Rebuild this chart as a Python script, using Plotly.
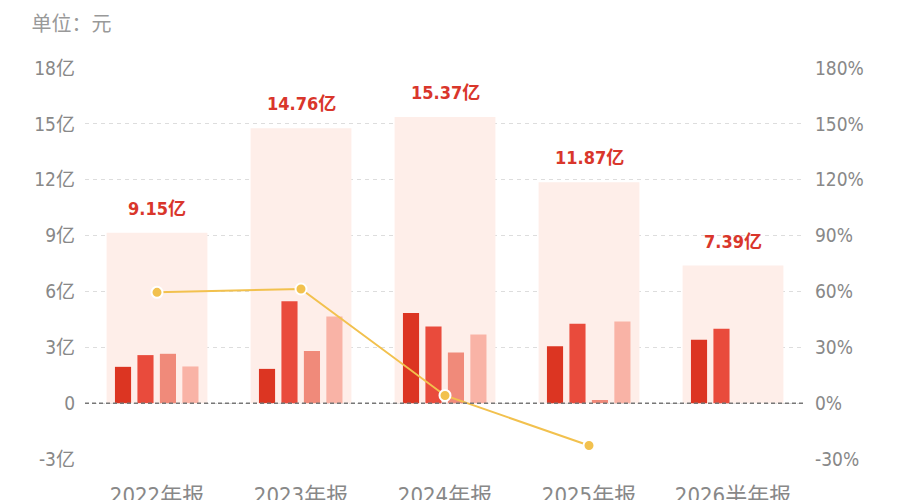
import plotly.graph_objects as go

# 报告期
periods = ["2022年报", "2023年报", "2024年报", "2025年报", "2026半年报"]

# 总额（亿元）
totals = [9.15, 14.76, 15.37, 11.87, 7.39]

# 各季度（亿元）
q1 = [1.95, 1.84, 4.84, 3.06, 3.40]
q2 = [2.58, 5.47, 4.12, 4.26, 3.99]
q3 = [2.65, 2.80, 2.72, 0.17, None]
q4 = [1.97, 4.65, 3.69, 4.38, None]

# 同比增长率（%）
growth = [59.5, 61.31, 4.13, -22.77, None]

y_ticks = [-3, 0, 3, 6, 9, 12, 15, 18]
y_labels = ["-3亿", "0", "3亿", "6亿", "9亿", "12亿", "15亿", "18亿"]
y2_ticks = [-30, 0, 30, 60, 90, 120, 150, 180]
y2_labels = ["-30%", "0%", "30%", "60%", "90%", "120%", "150%", "180%"]

font_num = "Liberation Sans Narrow, DejaVu Sans Condensed, Roboto, Noto Sans CJK SC, sans-serif"

fig = go.Figure()

# 背景柱（总额）
fig.add_trace(go.Bar(
    x=periods, y=totals, width=0.7, offset=-0.35,
    marker=dict(color="#FEEEE9", line=dict(width=0)),
    hoverinfo="skip", showlegend=False,
))

bar_colors = ["#DC3522", "#E94B3C", "#F08A7A", "#F9B3A6"]
offsets = [-0.292, -0.136, 0.02, 0.176]
for vals, c, off in zip([q1, q2, q3, q4], bar_colors, offsets):
    fig.add_trace(go.Bar(
        x=periods, y=vals, width=0.112, offset=off,
        marker=dict(color=c, line=dict(width=0)),
        showlegend=False,
    ))

# 增长率折线
fig.add_trace(go.Scatter(
    x=periods, y=growth, yaxis="y2", mode="lines+markers",
    line=dict(color="#F2C14E", width=2),
    marker=dict(color="#F2C14E", size=11, line=dict(color="white", width=2)),
    showlegend=False,
))

# 总额标签
for p, t in zip(periods, totals):
    fig.add_annotation(
        x=p, y=t, text=f"{t:.2f}亿", showarrow=False,
        yanchor="bottom", yshift=12,
        font=dict(family=font_num, size=18, color="#D9362B", weight="bold"),
    )

# 零线
fig.add_shape(type="line", xref="paper", x0=0, x1=1, yref="y", y0=0, y1=0,
              line=dict(color="#777777", width=1.5, dash="4px,3px"))

# 页面有 8px 边距，边距里已扣掉
fig.update_layout(
    width=900, height=500,
    margin=dict(l=77, r=103, t=60, b=49),
    paper_bgcolor="white", plot_bgcolor="white",
    barmode="overlay",
    title=dict(text="单位：元", x=0.026, xref="container", xanchor="left",
               y=0.968, yref="container", yanchor="middle", pad=dict(l=0, t=0, b=0, r=0),
               font=dict(family="Noto Sans CJK SC", size=20, color="#999999")),
    xaxis=dict(
        range=[-0.5, 4.5], showgrid=False, showline=False, zeroline=False,
        ticks="outside", ticklen=17, tickcolor="rgba(0,0,0,0)", automargin=False,
        tickfont=dict(family=font_num, size=22, color="#888888"),
    ),
    yaxis=dict(
        range=[-3, 18], tickvals=y_ticks, ticktext=y_labels, automargin=False,
        showgrid=True, gridcolor="#DDDDDD", griddash="4px,4px", gridwidth=1,
        zeroline=False, showline=False, ticklabelstandoff=9,
        tickfont=dict(family=font_num, size=19, color="#888888"),
    ),
    yaxis2=dict(
        range=[-30, 180], tickvals=y2_ticks, ticktext=y2_labels, automargin=False,
        overlaying="y", side="right", showgrid=False, zeroline=False, showline=False,
        ticklabelstandoff=9,
        tickfont=dict(family=font_num, size=19, color="#888888"),
    ),
)

fig.write_html("out.html")
